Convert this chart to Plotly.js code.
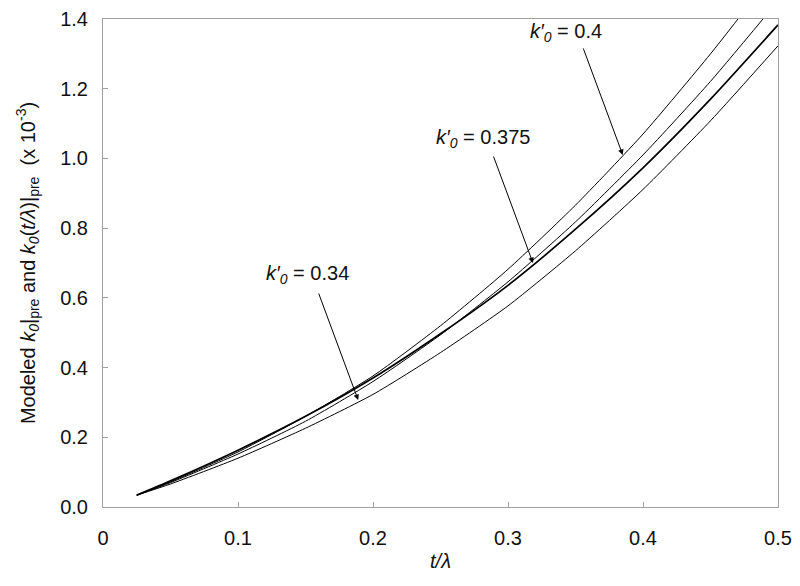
<!DOCTYPE html>
<html>
<head>
<meta charset="utf-8">
<script src="https://cdn.plot.ly/plotly-3.0.1.min.js"></script>
<style>
  html, body { margin: 0; padding: 0; background: #fff; }
  #plot { width: 800px; height: 586px; }
</style>
</head>
<body>
<div id="plot"></div>
<script>
// t/lambda values (shared by all curves)
const tLambda = [0.025, 0.05, 0.1, 0.15, 0.2, 0.25, 0.3, 0.35, 0.4, 0.45, 0.5];

// modeled k0|pre for the three k'0 values (x 10^-3)
const k040 = [0.034, 0.072, 0.158, 0.26, 0.376, 0.52, 0.682, 0.866, 1.07, 1.30, 1.548];
const k0375 = [0.034, 0.070, 0.152, 0.246, 0.360, 0.494, 0.646, 0.818, 1.010, 1.221, 1.452];
const k034 = [0.034, 0.066, 0.140, 0.226, 0.323, 0.443, 0.577, 0.735, 0.911, 1.108, 1.323];

// k0(t/lambda)|pre (thick line)
const k0t = [0.034, 0.075, 0.163, 0.26, 0.37, 0.497, 0.636, 0.797, 0.973, 1.17, 1.383];

// arrow labels and the points the arrows touch
const labels = ['<i>k′<sub>0</sub></i> = 0.4', '<i>k′<sub>0</sub></i> = 0.375', '<i>k′<sub>0</sub></i> = 0.34'];
const tipX = [0.385, 0.3185, 0.189];
const tipY = [1.010, 0.700, 0.307];

const font = 'Liberation Sans, Arial, sans-serif';

function line(y, w) {
    return {
        x: tLambda,
        y: y,
        mode: 'lines',
        line: { color: '#000', width: w, shape: 'spline', smoothing: 0.6 },
        hoverinfo: 'skip'
    };
}

const traces = [line(k040, 1), line(k0375, 1), line(k034, 1), line(k0t, 1.7)];

// arrow tails and text centres, offsets in px from the arrow tip
const tailOff = [[-40, -108], [-40, -108], [-40, -108]];
const textOff = [[-57, -122], [-50, -125], [-51, -125]];

const annotations = [];
for (let i = 0; i < labels.length; i++) {
    annotations.push({
        x: tipX[i], y: tipY[i], xref: 'x', yref: 'y',
        text: '', showarrow: true,
        ax: tailOff[i][0], ay: tailOff[i][1],
        arrowhead: 2, arrowsize: 1.1, arrowwidth: 1, arrowcolor: '#000'
    });
    annotations.push({
        x: tipX[i], y: tipY[i], xref: 'x', yref: 'y',
        text: labels[i], showarrow: false,
        xshift: textOff[i][0], yshift: -textOff[i][1],
        font: { family: font, size: 20, color: '#111' }
    });
}

const axisCommon = {
    showline: true, mirror: true, linecolor: '#a0a0a0', linewidth: 1,
    ticks: 'inside', ticklen: 5, tickcolor: '#a0a0a0',
    showgrid: false, zeroline: false,
    tickfont: { family: font, size: 20, color: '#111' }
};

const layout = {
    width: 800, height: 586,
    margin: { l: 103, r: 22, t: 19, b: 79 },
    paper_bgcolor: '#fff', plot_bgcolor: '#fff',
    showlegend: false,
    font: { family: font, color: '#111' },
    xaxis: Object.assign({}, axisCommon, {
        range: [0, 0.5], tickvals: [0, 0.1, 0.2, 0.3, 0.4, 0.5],
        ticktext: ['0', '0.1', '0.2', '0.3', '0.4', '0.5'],
        ticklabelstandoff: 13,
        title: { text: '<i>t/λ</i>', font: { family: font, size: 20, color: '#111' }, standoff: 5 }
    }),
    yaxis: Object.assign({}, axisCommon, {
        range: [0, 1.4], dtick: 0.2, tickformat: '.1f',
        ticklabelstandoff: 10,
        title: {
            text: 'Modeled <i>k<sub>0</sub></i>|<sub>pre</sub> and <i>k<sub>0</sub></i>(<i>t/λ</i>)|<sub>pre</sub>  (x 10<sup>-3</sup>)',
            font: { family: font, size: 20, color: '#111' }, standoff: 19
        }
    }),
    annotations: annotations
};

Plotly.newPlot('plot', traces, layout, { staticPlot: true });
</script>
</body>
</html>
